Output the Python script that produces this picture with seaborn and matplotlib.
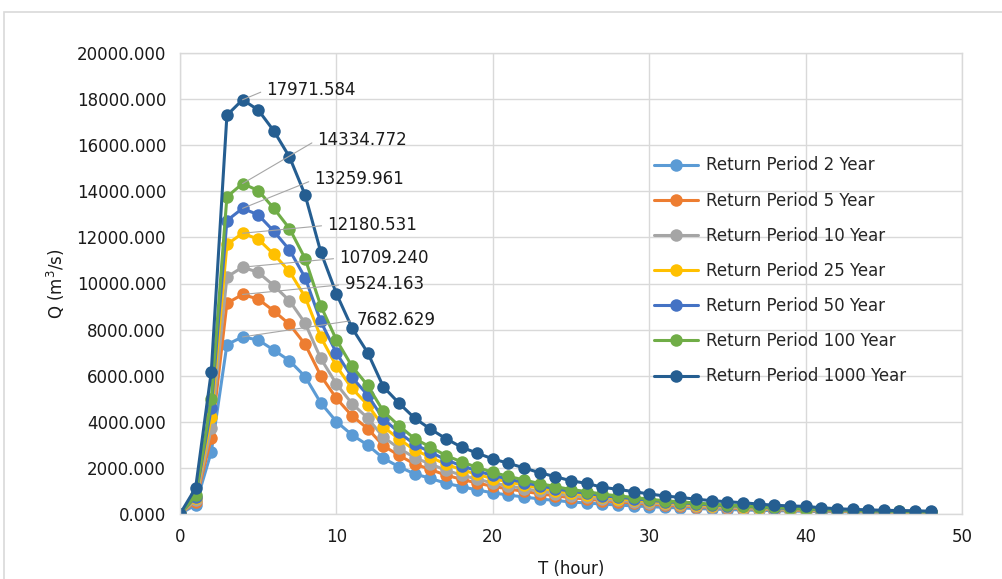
import numpy as np
import pandas as pd
import matplotlib
matplotlib.use('Agg')
import matplotlib.pyplot as plt
from matplotlib.patches import Rectangle
from matplotlib.ticker import FormatStrFormatter
import seaborn as sns

# hourly time steps
T = list(range(0, 49))

series_names = ['Return Period 2 Year', 'Return Period 5 Year', 'Return Period 10 Year',
                'Return Period 25 Year', 'Return Period 50 Year', 'Return Period 100 Year',
                'Return Period 1000 Year']

# discharge values (m3/s)
q2 = [0, 400, 2700, 7350, 7682.629, 7550, 7110, 6650, 5960, 4820, 4010, 3430, 2990, 2420,
      2050, 1740, 1550, 1330, 1190, 1040, 920, 820, 740, 650, 590, 520, 480, 430, 390, 350,
      320, 290, 260, 240, 215, 195, 175, 160, 145, 130, 115, 105, 95, 85, 75, 70, 62, 55, 50]
q5 = [0, 533, 3305, 9143, 9524.163, 9324, 8810, 8229, 7362, 6000, 5019, 4257, 3705, 2962,
      2543, 2171, 1933, 1686, 1505, 1343, 1200, 1086, 981, 876, 790, 705, 648, 571, 524, 476,
      429, 381, 352, 314, 286, 257, 238, 210, 190, 171, 152, 133, 124, 105, 95, 86, 76, 71, 63]
q10 = [0, 600, 3716, 10281, 10709.240, 10484, 9906, 9253, 8278, 6747, 5644, 4787, 4166, 3331,
       2859, 2442, 2174, 1896, 1692, 1510, 1349, 1221, 1103, 985, 889, 792, 728, 643, 589, 535,
       482, 428, 396, 353, 321, 289, 268, 236, 214, 193, 171, 150, 139, 118, 107, 96, 86, 80, 71]
q25 = [0, 682, 4227, 11693, 12180.531, 11925, 11267, 10524, 9416, 7674, 6419, 5445, 4738, 3788,
       3252, 2777, 2473, 2156, 1925, 1717, 1535, 1389, 1255, 1121, 1011, 901, 828, 731, 670, 609,
       548, 487, 451, 402, 365, 329, 305, 268, 244, 219, 195, 171, 158, 134, 122, 110, 97, 91, 80]
q50 = [0, 743, 4601, 12730, 13259.961, 12981, 12265, 11457, 10250, 8354, 6988, 5927, 5158, 4124,
       3540, 3023, 2692, 2347, 2095, 1870, 1671, 1512, 1366, 1220, 1101, 981, 902, 796, 729, 663,
       597, 530, 491, 438, 398, 358, 331, 292, 265, 239, 212, 186, 172, 146, 133, 119, 106, 99, 88]
q100 = [0, 803, 4974, 13761, 14334.772, 14034, 13260, 12385, 11081, 9031, 7554, 6408, 5576, 4458,
        3827, 3268, 2910, 2537, 2265, 2021, 1806, 1634, 1476, 1319, 1190, 1061, 975, 860, 788, 717,
        645, 573, 530, 473, 430, 387, 358, 315, 287, 258, 229, 201, 186, 158, 143, 129, 115, 108, 95]
q1000 = [0, 1130, 6170, 17300, 17971.584, 17530, 16620, 15490, 13840, 11370, 9560, 8070, 7000, 5520,
         4810, 4160, 3690, 3270, 2900, 2640, 2390, 2200, 2000, 1790, 1620, 1440, 1330, 1160, 1070, 970,
         870, 780, 720, 640, 580, 530, 490, 430, 380, 350, 330, 270, 230, 200, 180, 160, 150, 140, 120]

colors = ['#5B9BD5', '#ED7D31', '#A5A5A5', '#FFC000', '#4472C4', '#70AD47', '#255E91']

# label offsets (pixels) for the peak labels
label_offsets = [(114, 17), (102, 10), (97, 9), (85, 8), (72, 29), (75, 44), (24, 10)]

all_q = [q2, q5, q10, q25, q50, q100, q1000]
frames = []
for name, q in zip(series_names, all_q):
    frames.append(pd.DataFrame({'T': T, 'Q': q, 'series': name}))
df = pd.concat(frames, ignore_index=True)

sns.set_theme(style='whitegrid')
plt.rcParams['font.family'] = ['DejaVu Sans']

fig = plt.figure(figsize=(10.03, 5.79), dpi=100)
ax = fig.add_axes([180 / 1003, 1 - 514 / 579, 782 / 1003, 461 / 579])

sns.lineplot(data=df, x='T', y='Q', hue='series', hue_order=series_names,
             palette=colors, marker='o', markersize=9, markeredgewidth=0,
             linewidth=2.2, ax=ax)

# peak labels with leader lines
for q, off in zip(all_q, label_offsets):
    pk = int(np.argmax(q))
    ax.annotate('{:.3f}'.format(q[pk]), xy=(T[pk], q[pk]), xytext=off,
                textcoords='offset pixels', fontsize=12, color='#1a1a1a',
                ha='left', va='center',
                arrowprops=dict(arrowstyle='-', color='#a6a6a6', lw=0.8,
                                shrinkA=2, shrinkB=0, relpos=(0, 0.5)))

ax.set_xlim(0, 50)
ax.set_ylim(0, 20000)
ax.set_xticks(range(0, 51, 10))
ax.set_yticks(range(0, 20001, 2000))
ax.yaxis.set_major_formatter(FormatStrFormatter('%.3f'))
ax.tick_params(axis='both', labelsize=12, colors='#1a1a1a', length=0, pad=10)
ax.grid(color='#d9d9d9', linewidth=1)
for s in ax.spines.values():
    s.set_color('#d9d9d9')
    s.set_linewidth(1)

ax.set_xlabel('T (hour)', fontsize=12, color='#1a1a1a', labelpad=10)
ax.set_ylabel('Q (m$^3$/s)', fontsize=12, color='#1a1a1a', labelpad=7)

h, l = ax.get_legend_handles_labels()
ax.legend(h, l, loc='upper left', bbox_to_anchor=(0.598, 0.79), frameon=False,
          fontsize=12, handlelength=2.6, handletextpad=0.5, labelspacing=1.03,
          borderaxespad=0)

# chart area border
fig.patches.append(Rectangle((4 / 1003, -0.1), 1.1, 1.1 - 12 / 579, fill=False,
                             edgecolor='#d9d9d9', linewidth=1.2, transform=fig.transFigure))

fig.savefig('out.png', dpi=100)
